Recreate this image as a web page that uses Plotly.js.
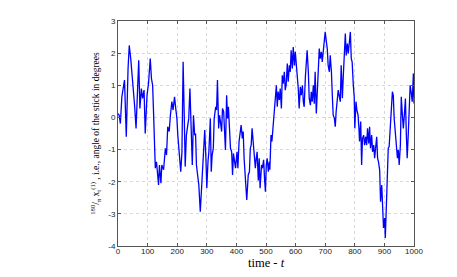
<!DOCTYPE html>
<html>
<head>
<meta charset="utf-8">
<script src="https://cdn.plot.ly/plotly-3.0.1.min.js"></script>
<style>html,body{margin:0;padding:0;background:#fff;}#chart{width:457px;height:277px;}</style>
</head>
<body>
<div id="chart"></div>
<script>
// time index t
const timeSteps = [
  0,4,8,13,22, 28,34,38,43,47, 51,56,61,65,70, 74,79,83,88,92,
  98,103,109,113,117, 120,124,126,130,134, 137,140,145,148,154,
  160,164,168,173,177, 182,186,191,195,199, 202,207,212,216,220,
  224,227,231,236,239, 243,
  247,251,255,259,262, 265,269,273,278,282, 286,289,293,297,300,
  304,307,312,315,318, 322,325,330,333,336, 340,343,346,350,353,
  357,360,363,367,370, 373,377,380,384,387, 390,394,397,402,405,
  409,413,416,420,423, 426,431,435,440,444, 447,450,453,457,460,
  464,467,470,474,477, 480,485,488,492,495, 498,
  501,504,508,511,513, 517,520,523,527,531, 535,538,541,545,548,
  552,555,558,562,565, 568,572,575,579,582, 585,589,592,596,599,
  602,606,609,612,616, 619,623,626,629,633, 636,639,643,646,650,
  653,656,660,663,666, 670,673,677,680,683, 687,690,693,697,700,
  704,707,710,714,717, 721,724,727,731,734, 737,741,744,748,751,
  754,758,
  761,764,768,771,775, 778,781,785,788,791, 795,798,800,804,807,
  811,814,816,820,823, 826,830,833,837,840, 843,847,850,853,857,
  860,864,867,870,874, 877,880,884,887,891, 894,897,901,903,906,
  910,913,916,920,923, 927,930,933,937,940, 944,947,950,954,957,
  960,964,967,971,974, 977,981,984,987,991, 994,998,1000
];
// stick angle in degrees
const angleDeg = [
  0.12,0.07,-0.19,0.64,1.16, -0.6,1.52,2.24,1.83,1.41, 0.9,0.38,-0.34,0.69,1.78, 0.28,0.9,0.59,0.85,-0.5,
  0.69,1.05,1.83,1.21,1.0, 0.18,-1.27,-1.58,-1.38,-1.89, -2.1,-1.48,-2.05,-1.48,-1.63,
  -0.96,-1.17,-0.29,-0.44,0.07, 0.49,0.23,0.64,0.28,-0.03, -0.55,-1.27,-1.69,-1.07,1.73,
  -0.03,-1.53,-0.55,-0.24,-0.03, 0.9,
  -0.65,-1.48,0.07,-0.55,-0.5, -1.48,-1.79,-2.1,-2.93,-2.31, -1.74,-1.27,-0.39,-1.27,-2.2,
  -1.38,-1.07,-0.03,-1.69,-1.17, -0.96,-0.03,0.33,0.23,1.16, -0.34,0.07,-0.13,-0.44,0.28,
  0.18,-0.44,-1.01,0.69,-0.03, 0.33,-0.55,-0.96,-1.07,-1.79, -1.12,-1.48,-1.58,-1.07,-1.58,
  -0.75,-0.5,-0.24,-0.65,-0.44, -1.27,-1.89,-2.57,-1.79,-1.69, -0.96,-0.86,-0.34,-0.86,-1.17,
  -1.58,-1.27,-1.07,-1.96,-1.27, -2.2,-1.48,-1.58,-1.32,-1.89, -2.31,
  -1.48,-1.27,-1.69,-1.38,-1.63, -0.55,-0.75,-0.44,0.07,0.33, 1.0,0.33,0.8,0.54,0.9,
  0.28,1.31,1.05,1.42,0.85, 1.0,1.68,1.11,1.62,1.42, 2.09,1.52,2.19,1.62,2.04,
  1.73,1.26,0.9,0.28,0.95, 0.69,1.0,0.49,0.33,1.26, 1.93,2.09,1.42,0.59,0.38,
  0.8,0.49,1.0,0.43,1.42, 0.12,0.8,1.93,2.14,1.83, 2.04,1.73,2.04,2.5,2.66,
  2.35,2.14,1.62,1.42,1.93, 1.42,0.69,0.07,-0.03,-0.29, 0.18,0.49,0.85,0.64,0.49,
  1.62,0.6,
  1.26,2.04,2.61,1.93,2.3, 1.99,2.24,2.66,1.83,1.73, 1.0,0.64,-0.34,0.49,0.23,
  0.07,-0.34,-0.75,-0.13,-1.48, -0.65,-0.55,-0.86,-0.6,-0.86, -0.34,-0.81,-0.29,-0.96,-0.55,
  -1.07,-0.86,-1.27,-0.86,-0.6, -1.27,-1.38,-1.63,-2.62,-2.1, -3.03,-3.44,-3.13,-3.75,-2.93,
  -2.0,-0.96,-0.91,-0.44,0.18, 0.8,0.69,-0.03,-0.5,-0.86, -1.27,-1.01,-1.48,-0.86,0.64,
  0.18,-0.34,0.02,0.59,-0.5, -1.27,-0.44,0.33,1.0,0.74, 0.49,1.37,0.43
];
const xTicks = [0,100,200,300,400,500,600,700,800,900,1000];
const yTicks = [-4,-3,-2,-1,0,1,2,3];
const xLabel = 'time - <i>t</i>';
const yLabel = '<sup>180</sup>/<sub>π</sub> x<sub>t</sub><sup>(1)</sup> , i.e., angle of the stick in degrees';

const axisCommon = {
  ticks: 'inside', ticklen: 3, tickwidth: 1, tickcolor: '#555',
  showline: true, mirror: 'ticks', linecolor: '#555', linewidth: 1,
  showgrid: true, gridcolor: '#d8d8d8', griddash: 'dot', gridwidth: 1,
  zeroline: false,
  tickfont: {family: 'Liberation Sans, Arial, sans-serif', size: 8, color: '#222'}
};

const trace = {
  x: timeSteps, y: angleDeg, type: 'scatter', mode: 'lines',
  line: {color: '#0000ff', width: 1.3}, hoverinfo: 'none'
};

const layout = {
  width: 457, height: 277,
  margin: {l: 118, r: 43, t: 21, b: 31, pad: 0},
  paper_bgcolor: '#fff', plot_bgcolor: '#fff',
  showlegend: false,
  xaxis: Object.assign({}, axisCommon, {
    range: [0, 1000], tickmode: 'array', tickvals: xTicks, ticktext: xTicks.map(String),
    ticklabelstandoff: -3
  }),
  yaxis: Object.assign({}, axisCommon, {
    range: [-4, 3], tickmode: 'array', tickvals: yTicks, ticktext: yTicks.map(String),
    title: {text: yLabel, standoff: 6,
      font: {family: 'Liberation Serif, serif', size: 9.5, color: '#000'}}
  }),
  annotations: [{
    text: xLabel, xref: 'paper', yref: 'paper', x: 0.5, y: -0.074,
    xanchor: 'center', yanchor: 'middle', showarrow: false,
    font: {family: 'Liberation Serif, serif', size: 12.5, color: '#000'}
  }]
};

Plotly.newPlot('chart', [trace], layout, {staticPlot: true, displayModeBar: false});
</script>
</body>
</html>
